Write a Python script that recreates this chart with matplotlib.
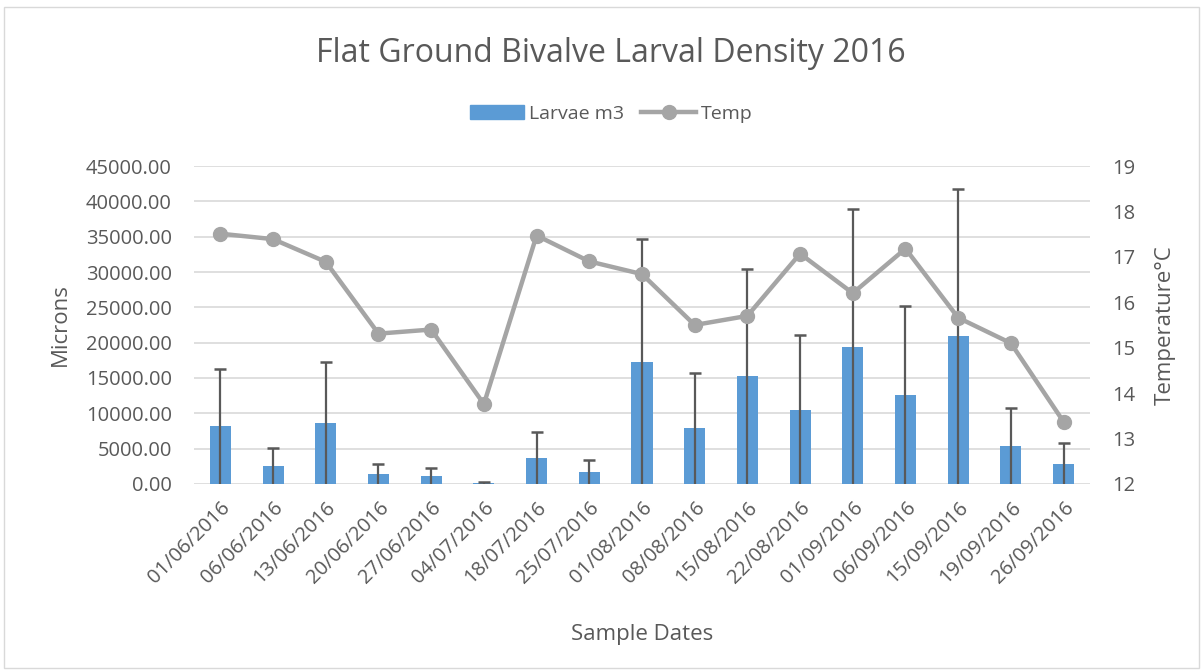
import matplotlib.pyplot as plt
import numpy as np
from matplotlib.patches import Rectangle

dates = ["01/06/2016", "06/06/2016", "13/06/2016", "20/06/2016", "27/06/2016",
         "04/07/2016", "18/07/2016", "25/07/2016", "01/08/2016", "08/08/2016",
         "15/08/2016", "22/08/2016", "01/09/2016", "06/09/2016", "15/09/2016",
         "19/09/2016", "26/09/2016"]
larvae = [8150, 2600, 8630, 1410, 1130, 150, 3680, 1700, 17300, 7880,
          15240, 10520, 19430, 12600, 20940, 5380, 2880]
larvae_err = [8100, 2550, 8630, 1420, 1180, 150, 3630, 1650, 17300, 7870,
              15160, 10520, 19470, 12600, 20860, 5320, 2920]
temp = [17.51, 17.39, 16.89, 15.31, 15.40, 13.76, 17.47, 16.90, 16.62, 15.50,
        15.70, 17.07, 16.20, 17.18, 15.66, 15.10, 13.37]

text_col = "#595959"
plt.rcParams['font.family'] = ['Open Sans', 'DejaVu Sans']

fig = plt.figure(figsize=(12.03, 6.71), dpi=100)
ax = fig.add_axes([0.1613, 0.2787, 0.7447, 0.4739])
ax2 = ax.twinx()

x = np.arange(len(dates))
ax.bar(x, larvae, width=0.4, color="#5B9BD5", zorder=2)
tops = np.array(larvae) + np.array(larvae_err)
ax.vlines(x, 0, tops, color=text_col, linewidth=1.6, zorder=3)
ax.plot(x, tops, linestyle="none", marker="_", markersize=9,
        markeredgewidth=1.8, color=text_col, zorder=3)

ax2.plot(x, temp, color="#A5A5A5", linewidth=3.2, marker="o", markersize=10,
         zorder=4)

ax.set_xlim(-0.5, len(dates) - 0.5)
ax.set_ylim(0, 45000)
ax.set_yticks(np.arange(0, 45001, 5000))
ax.set_yticklabels([f"{v:.2f}" for v in np.arange(0, 45001, 5000)])
ax2.set_ylim(12, 19)
ax2.set_yticks(range(12, 20))

ax.set_xticks(x)
ax.set_xticklabels(dates, rotation=45, ha="right", rotation_mode="anchor")

ax.grid(axis="y", color="#D9D9D9", linewidth=1.2, zorder=0)
ax.set_axisbelow(True)
for a in (ax, ax2):
    for s in a.spines.values():
        s.set_visible(False)
    a.tick_params(length=0, colors=text_col, labelsize=14.5)
ax.tick_params(axis="x", pad=10)
ax.tick_params(axis="y", pad=16)
ax2.tick_params(axis="y", pad=16)
ax.patch.set_visible(False)
ax2.patch.set_visible(False)
ax.set_zorder(1)
ax2.set_zorder(2)

ax.set_ylabel("Microns", fontsize=16, color=text_col, labelpad=11)
ax2.set_ylabel("Temperature°C", fontsize=16, color=text_col, labelpad=14)
ax.set_xlabel("Sample Dates", fontsize=16, color=text_col, labelpad=26)

fig.text(0.508, 0.92, "Flat Ground Bivalve Larval Density 2016",
         ha="center", va="center", fontsize=23, color=text_col)

h1 = plt.Rectangle((0, 0), 1, 1, color="#5B9BD5")
h2, = ax2.plot([], [], color="#A5A5A5", linewidth=3.2, marker="o", markersize=10)
fig.legend([h1, h2], ["Larvae m3", "Temp"], loc="center",
           bbox_to_anchor=(0.508, 0.83), ncol=2, frameon=False,
           fontsize=14, labelcolor=text_col, handlelength=2.8,
           columnspacing=0.9, handletextpad=0.25)

fig.patches.append(Rectangle((0.003, 0.004), 0.994, 0.985, transform=fig.transFigure,
                             fill=False, edgecolor="#D9D9D9", linewidth=1))

fig.savefig("out.png", dpi=100)
